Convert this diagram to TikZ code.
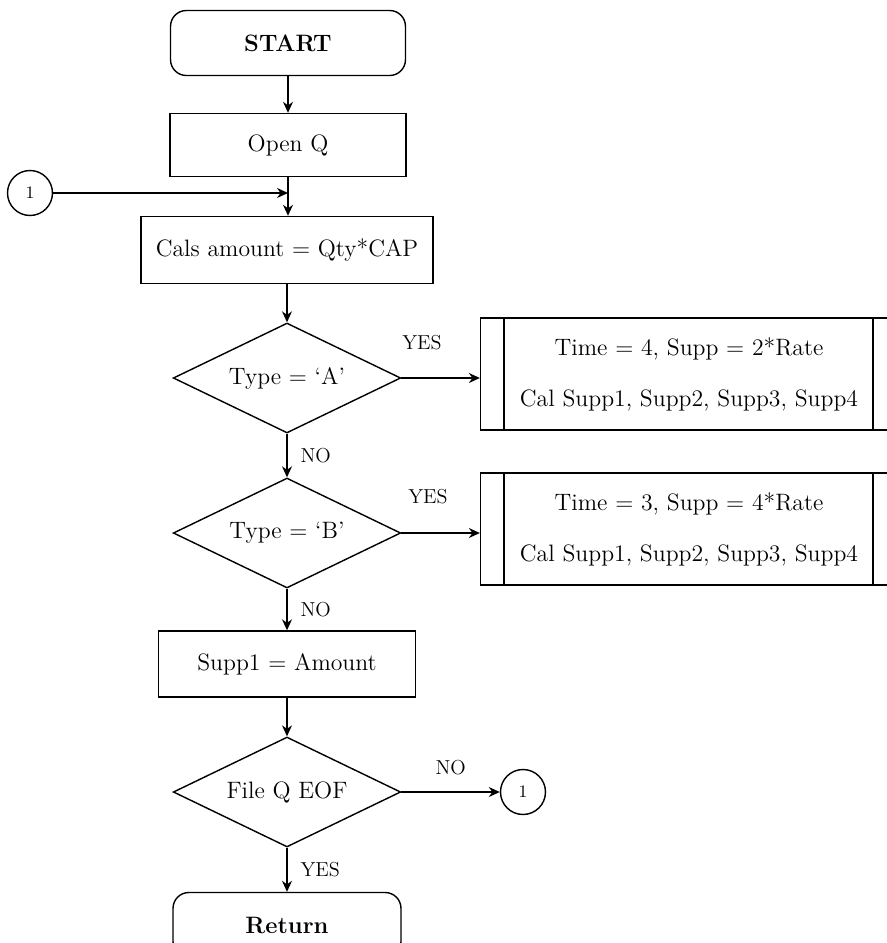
\documentclass[tikz,border=0pt]{standalone}
\usepackage{tikz}
\usetikzlibrary{arrows.meta, positioning, calc, shapes.geometric}

\begin{document}
\begin{tikzpicture}[x=0.02cm, y=-0.02cm, every node/.style={font=\fontsize{13.5}{15}\selectfont},
  box/.style={draw, thick, minimum width=4.7cm, minimum height=1.3cm, align=center},
  term/.style={box, rounded corners=9pt, font=\fontsize{13.5}{15}\selectfont\bfseries},
  decision/.style={draw, thick, diamond, aspect=2, inner sep=0pt, minimum width=4.55cm, minimum height=2.2cm},
  predef/.style={box, minimum width=8.34cm, minimum height=2.24cm},
  conn/.style={draw, thick, circle, inner sep=0pt, minimum size=0.9cm, font=\fontsize{10}{12}\selectfont},
  lbl/.style={font=\fontsize{11.5}{13}\selectfont},
  flow/.style={thick, -{Stealth[length=2.2mm, width=2mm]}}]
  \useasboundingbox (0,0) rectangle (886,943);

  \node[term] (start) at (288,43) {START};
  \node[box, minimum width=4.72cm, minimum height=1.26cm] (open) at (288,145) {Open Q};
  \node[box, minimum width=5.84cm, minimum height=1.34cm] (cals) at (287,250) {Cals amount = Qty*CAP};
  \node[conn] (c1) at (30,193) {1};
  \coordinate (join) at (288,193);
  \draw[flow] (start) -- (open);
  \draw[thick] (open.south) -- (join);
  \draw[flow] (join) -- (cals.north -| join);
  \draw[flow] (c1) -- (join);

  \node[decision] (typea) at (287,378) {Type = `A'};
  \node[decision] (typeb) at (287,533) {Type = `B'};
  \draw[flow] (cals.south) -- (typea.north);
  \draw[flow] (typea.south) -- node[lbl, right=4pt] {NO} (typeb.north);

  \node[predef] (casea) at (689,374) {Time = 4, Supp = 2*Rate\\[14pt]Cal Supp1, Supp2, Supp3, Supp4};
  \node[predef] (caseb) at (689,529) {Time = 3, Supp = 4*Rate\\[14pt]Cal Supp1, Supp2, Supp3, Supp4};
  \foreach \b in {casea, caseb} {
    \draw[thick] ($(\b.north west)+(24,0)$) -- ($(\b.south west)+(24,0)$);
    \draw[thick] ($(\b.north east)+(-25,0)$) -- ($(\b.south east)+(-25,0)$);
  }
  \draw[flow] (typea.east) -- (typea.east -| casea.west);
  \draw[flow] (typeb.east) -- (typeb.east -| caseb.west);
  \node[lbl] (yesa) at (422,343) {YES};
  \node[lbl] (yesb) at (428,497) {YES};

  \node[box, minimum width=5.14cm, minimum height=1.32cm] (supp) at (287,664) {Supp1 = Amount};
  \draw[flow] (typeb.south) -- node[lbl, right=4pt] {NO} (supp.north);

  \node[decision] (eof) at (287,792) {File Q EOF};
  \draw[flow] (supp.south) -- (eof.north);
  \node[conn] (c2) at (523,792) {1};
  \draw[flow] (eof.east) -- node[lbl, above=6pt] {NO} (c2);

  \node[term, minimum width=4.56cm, minimum height=1.3cm] (ret) at (287,925) {Return};
  \draw[flow] (eof.south) -- node[lbl, right=4pt] {YES} (ret.north);
\end{tikzpicture}
\end{document}
